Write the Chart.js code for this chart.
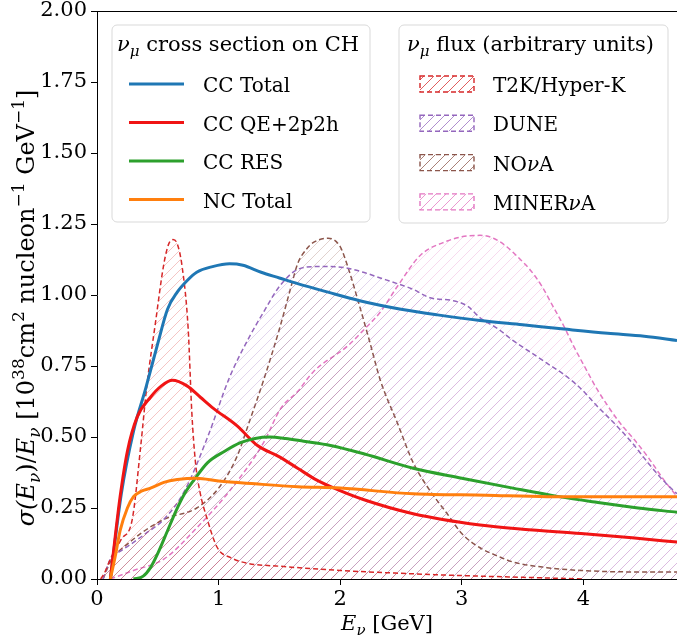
<!DOCTYPE html>
<html>
<head>
<meta charset="utf-8">
<script src="https://cdn.jsdelivr.net/npm/chart.js@4"></script>
<style>
  html, body { margin: 0; padding: 0; background: #fff; }
  #wrap { width: 677px; height: 639px; }
</style>
</head>
<body>
<div id="wrap"><canvas id="chart" width="677" height="639"></canvas></div>
<script>
// cross sections (solid lines)
const ccTotalE = [0.11, 0.2, 0.3, 0.4, 0.5, 0.58, 0.66, 0.74, 0.82, 0.95, 1.09, 1.2, 1.35, 1.5, 1.65, 1.9, 2.16, 2.5, 2.8, 3.15, 3.5, 3.84, 4.2, 4.5, 4.77];
const ccTotalXs = [0.0, 0.3, 0.52, 0.67, 0.83, 0.95, 1.01, 1.05, 1.08, 1.1, 1.11, 1.105, 1.08, 1.06, 1.04, 1.01, 0.98, 0.95, 0.93, 0.91, 0.895, 0.88, 0.865, 0.855, 0.84];

const ccQeE = [0.11, 0.15, 0.19, 0.25, 0.33, 0.44, 0.53, 0.62, 0.74, 0.85, 0.96, 1.15, 1.32, 1.5, 1.65, 1.8, 1.95, 2.19, 2.6, 3.15, 3.5, 3.98, 4.4, 4.77];
const ccQeXs = [0.0, 0.15, 0.29, 0.45, 0.57, 0.64, 0.68, 0.70, 0.68, 0.64, 0.60, 0.54, 0.47, 0.43, 0.39, 0.35, 0.32, 0.28, 0.23, 0.19, 0.175, 0.16, 0.145, 0.13];

const ccResE = [0.3, 0.38, 0.44, 0.5, 0.58, 0.65, 0.72, 0.8, 0.91, 1.05, 1.18, 1.3, 1.42, 1.55, 1.7, 1.92, 2.2, 2.6, 3.0, 3.42, 3.8, 4.11, 4.45, 4.77];
const ccResXs = [0.0, 0.01, 0.04, 0.09, 0.17, 0.24, 0.30, 0.35, 0.41, 0.45, 0.48, 0.495, 0.50, 0.495, 0.485, 0.47, 0.44, 0.39, 0.355, 0.32, 0.29, 0.27, 0.25, 0.235];

const ncTotalE = [0.11, 0.15, 0.19, 0.25, 0.3, 0.37, 0.44, 0.55, 0.66, 0.82, 1.0, 1.3, 1.65, 2.0, 2.6, 3.2, 3.7, 4.2, 4.77];
const ncTotalXs = [0.0, 0.08, 0.17, 0.25, 0.29, 0.31, 0.32, 0.34, 0.35, 0.355, 0.345, 0.335, 0.325, 0.32, 0.30, 0.295, 0.29, 0.29, 0.29];

// fluxes (dashed, hatched)
const t2kE = [0.03, 0.06, 0.11, 0.2, 0.29, 0.36, 0.41, 0.48, 0.55, 0.59, 0.625, 0.66, 0.7, 0.75, 0.78, 0.81, 0.85, 0.9, 0.99, 1.1, 1.23, 1.5, 2.0, 2.5, 3.0, 3.5, 4.0];
const t2kFlux = [0.0, 0.02, 0.07, 0.14, 0.21, 0.47, 0.68, 0.90, 1.11, 1.18, 1.195, 1.18, 1.1, 0.88, 0.585, 0.41, 0.30, 0.22, 0.11, 0.075, 0.056, 0.045, 0.03, 0.02, 0.012, 0.006, 0.0];

const duneE = [0.05, 0.11, 0.2, 0.27, 0.4, 0.55, 0.72, 0.91, 1.09, 1.25, 1.37, 1.5, 1.65, 1.8, 1.92, 2.05, 2.19, 2.33, 2.47, 2.6, 2.74, 2.93, 3.05, 3.15, 3.3, 3.42, 3.56, 3.7, 3.84, 3.98, 4.11, 4.25, 4.4, 4.53, 4.65, 4.77];
const duneFlux = [0.0, 0.07, 0.1, 0.12, 0.16, 0.21, 0.31, 0.50, 0.71, 0.85, 0.94, 1.03, 1.09, 1.1, 1.1, 1.095, 1.08, 1.06, 1.04, 1.02, 0.99, 0.98, 0.96, 0.92, 0.88, 0.84, 0.80, 0.76, 0.72, 0.67, 0.61, 0.55, 0.48, 0.41, 0.35, 0.30];

const novaE = [0.05, 0.11, 0.27, 0.55, 0.82, 1.0, 1.15, 1.25, 1.37, 1.5, 1.59, 1.65, 1.72, 1.78, 1.9, 2.0, 2.07, 2.14, 2.24, 2.33, 2.47, 2.6, 2.74, 2.88, 3.0, 3.15, 3.3, 3.42, 3.7, 3.98, 4.4, 4.77];
const novaFlux = [0.0, 0.06, 0.13, 0.21, 0.25, 0.32, 0.43, 0.55, 0.70, 0.88, 1.02, 1.11, 1.16, 1.185, 1.20, 1.17, 1.09, 0.99, 0.84, 0.70, 0.55, 0.41, 0.31, 0.23, 0.16, 0.11, 0.08, 0.06, 0.04, 0.03, 0.025, 0.025];

const minervaE = [0.11, 0.3, 0.55, 0.82, 1.09, 1.37, 1.51, 1.65, 1.78, 2.06, 2.2, 2.33, 2.47, 2.66, 2.88, 3.0, 3.15, 3.26, 3.37, 3.47, 3.56, 3.66, 3.75, 3.84, 3.92, 4.02, 4.11, 4.2, 4.3, 4.42, 4.53, 4.66, 4.77];
const minervaFlux = [0.0, 0.03, 0.07, 0.18, 0.31, 0.48, 0.60, 0.66, 0.73, 0.82, 0.88, 0.94, 1.03, 1.14, 1.19, 1.205, 1.21, 1.2, 1.17, 1.13, 1.09, 1.03, 0.96, 0.89, 0.82, 0.74, 0.67, 0.61, 0.55, 0.49, 0.43, 0.35, 0.29];

const xTicks = [0, 1, 2, 3, 4];
const yTicks = [0, 0.25, 0.5, 0.75, 1.0, 1.25, 1.5, 1.75, 2.0];

const FONT = "DejaVu Serif";
const FS = 21;

function pts(xs, ys) {
    return xs.map((x, i) => ({ x: x, y: ys[i] }));
}

function rgba(rgb, a) {
    return "rgba(" + rgb.join(",") + "," + a + ")";
}

function hatch(color) {
    const s = 10;
    const c = document.createElement("canvas");
    c.width = s;
    c.height = s;
    const g = c.getContext("2d");
    g.strokeStyle = color;
    g.lineWidth = 1;
    g.beginPath();
    g.moveTo(-1, s + 1); g.lineTo(s + 1, -1);
    g.moveTo(-1, 1); g.lineTo(1, -1);
    g.moveTo(s - 1, s + 1); g.lineTo(s + 1, s - 1);
    g.stroke();
    return g.createPattern(c, "repeat");
}

function xsLine(label, xs, ys, color, order) {
    return {
        label: label, data: pts(xs, ys), group: "xs",
        borderColor: color, borderWidth: 3, pointRadius: 0,
        cubicInterpolationMode: "monotone", fill: false, order: order,
    };
}

function fluxLine(label, xs, ys, rgb, order) {
    return {
        label: label, data: pts(xs, ys), group: "flux",
        borderColor: rgba(rgb, 1), borderWidth: 1.5, borderDash: [5, 3], pointRadius: 0,
        cubicInterpolationMode: "monotone", fill: "origin",
        backgroundColor: hatch(rgba(rgb, 0.27)),
        legendFill: hatch(rgba(rgb, 0.75)),
        order: order,
    };
}

const datasets = [
    xsLine("CC Total", ccTotalE, ccTotalXs, "#1f77b4", 4),
    xsLine("CC QE+2p2h", ccQeE, ccQeXs, "#f01414", 3),
    xsLine("CC RES", ccResE, ccResXs, "#2ca02c", 2),
    xsLine("NC Total", ncTotalE, ncTotalXs, "#ff7f0e", 1),
    fluxLine("T2K/Hyper-K", t2kE, t2kFlux, [214, 39, 40], 10),
    fluxLine("DUNE", duneE, duneFlux, [148, 103, 189], 11),
    fluxLine("NOνA", novaE, novaFlux, [140, 86, 75], 12),
    fluxLine("MINERνA", minervaE, minervaFlux, [227, 119, 194], 13),
];

// rich text: parts are [text, kind] with kind n | i | sub | isub | sup
function partFont(kind, size) {
    const small = kind === "sub" || kind === "isub" || kind === "sup";
    const it = kind === "i" || kind === "isub";
    return (it ? "italic " : "") + Math.round(small ? size * 0.7 : size) + "px '" + FONT + "'";
}
function partDy(kind, size) {
    if (kind === "sub" || kind === "isub") return size * 0.25;
    if (kind === "sup") return -size * 0.4;
    return 0;
}
function richWidth(ctx, parts, size) {
    let w = 0;
    parts.forEach((p) => { ctx.font = partFont(p[1], size); w += ctx.measureText(p[0]).width; });
    return w;
}
function drawRich(ctx, parts, x, y, align, size) {
    size = size || FS;
    let cx = align === "center" ? x - richWidth(ctx, parts, size) / 2 : x;
    ctx.textAlign = "left";
    ctx.textBaseline = "alphabetic";
    parts.forEach((p) => {
        ctx.font = partFont(p[1], size);
        ctx.fillText(p[0], cx, y + partDy(p[1], size));
        cx += ctx.measureText(p[0]).width;
    });
}
// greek letters in labels are set in italic
function labelParts(s) {
    return s.split(/(ν)/).filter((t) => t).map((t) => [t, t === "ν" ? "i" : "n"]);
}

function roundBox(ctx, x, y, w, h) {
    ctx.save();
    ctx.beginPath();
    ctx.roundRect(x, y, w, h, 5);
    ctx.fillStyle = "rgba(255,255,255,0.8)";
    ctx.fill();
    ctx.strokeStyle = "#d9d9d9";
    ctx.lineWidth = 1;
    ctx.stroke();
    ctx.restore();
}

const decorations = {
    id: "decorations",
    afterDraw(chart) {
        const ctx = chart.ctx;
        const a = chart.chartArea;
        ctx.save();
        // top spine
        ctx.strokeStyle = "#000";
        ctx.lineWidth = 1;
        ctx.beginPath();
        ctx.moveTo(a.left, a.top + 0.5);
        ctx.lineTo(a.right, a.top + 0.5);
        ctx.stroke();

        ctx.fillStyle = "#000";
        // x title
        drawRich(ctx, [["E", "i"], ["ν", "isub"], [" [GeV]", "n"]], 387, 630, "center", 21);
        // y title
        ctx.save();
        ctx.translate(34, 308);
        ctx.rotate(-Math.PI / 2);
        drawRich(ctx, [
            ["σ(", "i"], ["E", "i"], ["ν", "isub"], [")/", "n"], ["E", "i"], ["ν", "isub"],
            [" [10", "n"], ["38", "sup"], ["cm", "n"], ["2", "sup"], [" nucleon", "n"], ["−1", "sup"],
            [" GeV", "n"], ["−1", "sup"], ["]", "n"],
        ], 0, 0, "center", 24);
        ctx.restore();

        const xsSets = chart.data.datasets.filter((d) => d.group === "xs");
        const fluxSets = chart.data.datasets.filter((d) => d.group === "flux");

        // cross section legend
        roundBox(ctx, 112, 25, 258, 197);
        ctx.fillStyle = "#000";
        drawRich(ctx, [["ν", "i"], ["μ", "isub"], [" cross section on CH", "n"]], 117, 51, "left");
        xsSets.forEach((d, i) => {
            const y = 84 + i * 38.5;
            ctx.strokeStyle = d.borderColor;
            ctx.lineWidth = 3;
            ctx.beginPath();
            ctx.moveTo(129, y);
            ctx.lineTo(184, y);
            ctx.stroke();
            ctx.fillStyle = "#000";
            drawRich(ctx, labelParts(d.label), 203, y + 8, "left", 20);
        });

        // flux legend
        roundBox(ctx, 399, 25, 269, 198);
        ctx.fillStyle = "#000";
        drawRich(ctx, [["ν", "i"], ["μ", "isub"], [" flux (arbitrary units)", "n"]], 407, 51, "left");
        fluxSets.forEach((d, i) => {
            const y = 84 + i * 39.3;
            ctx.fillStyle = d.legendFill;
            ctx.fillRect(420, y - 8, 54, 16);
            ctx.strokeStyle = d.borderColor;
            ctx.lineWidth = 1.4;
            ctx.setLineDash([5, 3]);
            ctx.strokeRect(420, y - 8, 54, 16);
            ctx.setLineDash([]);
            ctx.fillStyle = "#000";
            drawRich(ctx, labelParts(d.label), 493, y + 8, "left", 20);
        });
        ctx.restore();
    },
};

new Chart(document.getElementById("chart").getContext("2d"), {
    type: "line",
    data: { datasets },
    options: {
        responsive: false,
        animation: false,
        layout: { padding: { top: 11, right: 0, left: 0, bottom: 0 } },
        scales: {
            x: {
                type: "linear",
                min: 0,
                max: 4.77,
                afterBuildTicks: (s) => { s.ticks = xTicks.map((v) => ({ value: v })); },
                ticks: {
                    color: "#000",
                    font: { family: FONT, size: FS },
                    maxRotation: 0,
                    padding: 2,
                    callback: (v) => String(v),
                },
                grid: { drawOnChartArea: false, tickLength: 6, color: "#000" },
                border: { color: "#000", width: 1 },
                afterFit: (s) => { s.height = 60; s.paddingLeft = 0; s.paddingRight = 0; },
            },
            y: {
                min: 0,
                max: 2,
                afterBuildTicks: (s) => { s.ticks = yTicks.map((v) => ({ value: v })); },
                ticks: {
                    color: "#000",
                    font: { family: FONT, size: FS },
                    padding: 4,
                    callback: (v) => v.toFixed(2),
                },
                grid: { drawOnChartArea: false, tickLength: 6, color: "#000" },
                border: { color: "#000", width: 1 },
                afterFit: (s) => { s.width = 97; s.paddingTop = 0; s.paddingBottom = 0; },
            },
        },
        plugins: {
            legend: { display: false },
            tooltip: { enabled: false },
        },
    },
    plugins: [decorations],
});
</script>
</body>
</html>
